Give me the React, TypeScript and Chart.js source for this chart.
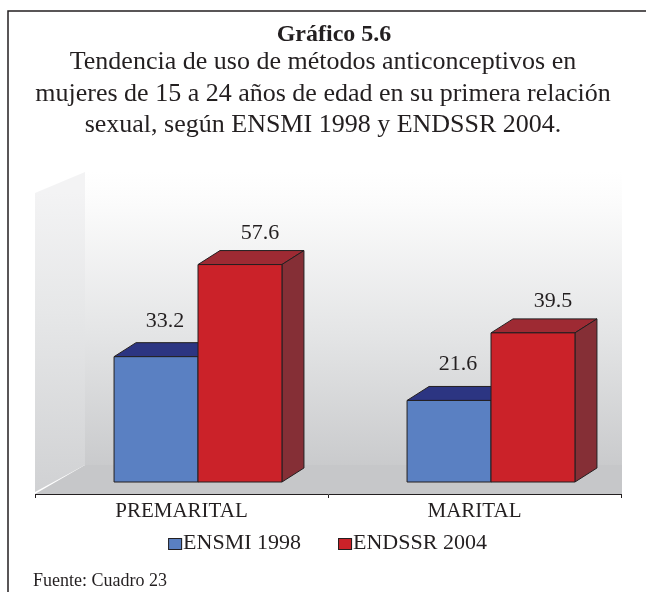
import React, { useEffect, useRef } from "react";
import { Chart, registerables } from "chart.js";

Chart.register(...registerables);

// ---- data ----
const categories = ["PREMARITAL", "MARITAL"];
const seriesLabels = ["ENSMI 1998", "ENDSSR 2004"];
const ensmi1998 = [33.2, 21.6];
const endssr2004 = [57.6, 39.5];
const titleText = "Gráfico 5.6";
const subtitleLines = [
  "Tendencia de uso de métodos anticonceptivos en",
  "mujeres de 15 a 24 años de edad en su primera relación",
  "sexual, según ENSMI 1998 y ENDSSR 2004.",
];
const sourceText = "Fuente: Cuadro 23";

// ---- styles ----
const frontColors = ["#5a80c2", "#cb2229"];
const topColors = ["#2c3582", "#9e2a33"];
const sideColors = ["#3a4c8c", "#852f36"];
const labelOffsetX = [9, 20];
const labelLift = [16, 12];
const INK = "#231f20";
const SERIF = '"Liberation Serif", "Times New Roman", Times, serif';
const DX = 22;
const DY = -14;
const SHIFT_X = 16.5;
const SHIFT_Y = -12;

function poly(ctx: CanvasRenderingContext2D, pts: number[][], fill: string) {
  ctx.beginPath();
  ctx.moveTo(pts[0][0], pts[0][1]);
  for (let i = 1; i < pts.length; i++) ctx.lineTo(pts[i][0], pts[i][1]);
  ctx.closePath();
  ctx.fillStyle = fill;
  ctx.fill();
  ctx.strokeStyle = INK;
  ctx.lineWidth = 1;
  ctx.stroke();
}

const chart3d = {
  id: "chart3d",
  beforeDraw(chart: any) {
    const { ctx, chartArea: a } = chart;
    ctx.save();
    // frame
    ctx.strokeStyle = INK;
    ctx.lineWidth = 1.5;
    ctx.beginPath();
    ctx.moveTo(8, 600);
    ctx.lineTo(8, 11);
    ctx.lineTo(650, 11);
    ctx.stroke();

    const wallX = a.left + 50;
    const wallTop = a.top - 20;
    const wallBottom = a.bottom - 29;
    // back wall
    const g = ctx.createLinearGradient(0, wallTop, 0, a.bottom);
    g.addColorStop(0, "#ffffff");
    g.addColorStop(0.1, "#fbfbfb");
    g.addColorStop(0.5, "#e4e5e6");
    g.addColorStop(1, "#c4c5c7");
    ctx.fillStyle = g;
    ctx.fillRect(wallX, wallTop, a.right + 1 - wallX, a.bottom - wallTop);
    // floor
    ctx.beginPath();
    ctx.moveTo(a.left, a.bottom);
    ctx.lineTo(wallX, wallBottom);
    ctx.lineTo(a.right + 1, wallBottom);
    ctx.lineTo(a.right + 1, a.bottom);
    ctx.closePath();
    ctx.fillStyle = "#c6c7c9";
    ctx.fill();
    // side wall
    const sg = ctx.createLinearGradient(0, a.top, 0, a.bottom);
    sg.addColorStop(0, "#f3f3f4");
    sg.addColorStop(0.4, "#e6e7e8");
    sg.addColorStop(1, "#d0d1d3");
    ctx.beginPath();
    ctx.moveTo(a.left, a.top + 1);
    ctx.lineTo(wallX, wallTop);
    ctx.lineTo(wallX, wallBottom);
    ctx.lineTo(a.left, a.bottom - 2);
    ctx.closePath();
    ctx.fillStyle = sg;
    ctx.fill();
    ctx.restore();
  },
  beforeDatasetsDraw(chart: any) {
    const { ctx } = chart;
    const n = chart.data.labels.length;
    const nd = chart.data.datasets.length;
    ctx.save();
    const labels: any[] = [];
    for (let j = 0; j < n; j++) {
      for (let i = 0; i < nd; i++) {
        const bar = chart.getDatasetMeta(i).data[j];
        const { x, y, base, width } = bar.getProps(["x", "y", "base", "width"], true);
        const l = x - width / 2 + SHIFT_X;
        const r = x + width / 2 + SHIFT_X;
        const t = y + SHIFT_Y;
        const b = base + SHIFT_Y;
        poly(ctx, [[l, t], [r, t], [r + DX, t + DY], [l + DX, t + DY]], topColors[i]);
        poly(ctx, [[r, t], [r + DX, t + DY], [r + DX, b + DY], [r, b]], sideColors[i]);
        poly(ctx, [[l, t], [r, t], [r, b], [l, b]], frontColors[i]);
        labels.push({
          text: String(chart.data.datasets[i].data[j]),
          x: (l + r) / 2 + labelOffsetX[i],
          y: t + DY - labelLift[i],
        });
      }
    }
    ctx.fillStyle = INK;
    ctx.font = `22px ${SERIF}`;
    ctx.textAlign = "center";
    ctx.textBaseline = "alphabetic";
    for (const lb of labels) ctx.fillText(lb.text, lb.x, lb.y);
    ctx.restore();
    return false;
  },
  afterDraw(chart: any) {
    const { ctx } = chart;
    ctx.save();
    ctx.fillStyle = INK;
    ctx.textBaseline = "alphabetic";
    ctx.textAlign = "center";
    ctx.font = `bold 24px ${SERIF}`;
    ctx.fillText(titleText, 334, 41);
    ctx.font = `26px ${SERIF}`;
    subtitleLines.forEach((s, i) => ctx.fillText(s, 323, 69 + i * 31.5));

    // legend
    ctx.font = `22px ${SERIF}`;
    ctx.textAlign = "left";
    const boxW = 14;
    const boxH = 12;
    const gap = 37;
    const items = chart.data.datasets.map((d: any, i: number) => ({
      label: d.label,
      color: frontColors[i],
      w: boxW + 1 + ctx.measureText(d.label).width,
    }));
    const total = items.reduce((s: number, it: any) => s + it.w, 0) + gap * (items.length - 1);
    let lx = 327.5 - total / 2;
    for (const it of items) {
      ctx.fillStyle = it.color;
      ctx.fillRect(lx, 538, boxW, boxH);
      ctx.strokeStyle = INK;
      ctx.lineWidth = 1;
      ctx.strokeRect(lx + 0.5, 538.5, boxW - 1, boxH - 1);
      ctx.fillStyle = INK;
      ctx.fillText(it.label, lx + boxW + 1, 549);
      lx += it.w + gap;
    }

    ctx.font = `18px ${SERIF}`;
    ctx.fillText(sourceText, 33, 586);
    ctx.restore();
  },
};

export default function App() {
  const ref = useRef<HTMLCanvasElement>(null);
  useEffect(() => {
    const chart = new Chart(ref.current as HTMLCanvasElement, {
      type: "bar",
      data: {
        labels: categories,
        datasets: [
          { label: seriesLabels[0], data: ensmi1998, backgroundColor: frontColors[0] },
          { label: seriesLabels[1], data: endssr2004, backgroundColor: frontColors[1] },
        ],
      },
      options: {
        responsive: false,
        animation: false,
        layout: { padding: { left: 35, right: 25, top: 192, bottom: 66.8 } },
        datasets: { bar: { categoryPercentage: 0.573, barPercentage: 1 } },
        plugins: {
          legend: { display: false },
          title: { display: false },
          tooltip: { enabled: false },
        },
        scales: {
          x: {
            grid: {
              display: true,
              drawOnChartArea: false,
              drawTicks: true,
              tickLength: 4,
              color: INK,
              lineWidth: 1,
              offset: true,
            },
            border: { display: true, color: INK, width: 1 },
            ticks: {
              color: INK,
              font: { family: SERIF, size: 21, lineHeight: 1.2 },
              padding: 1,
              maxRotation: 0,
              autoSkip: false,
            },
          },
          y: { display: false, min: 0, max: 80 },
        },
      },
      plugins: [chart3d],
    });
    return () => chart.destroy();
  }, []);
  return (
    <div style={{ position: "absolute", left: 0, top: 0, width: 646, height: 592, background: "#fff" }}>
      <canvas ref={ref} width={646} height={592} style={{ display: "block" }} />
    </div>
  );
}
